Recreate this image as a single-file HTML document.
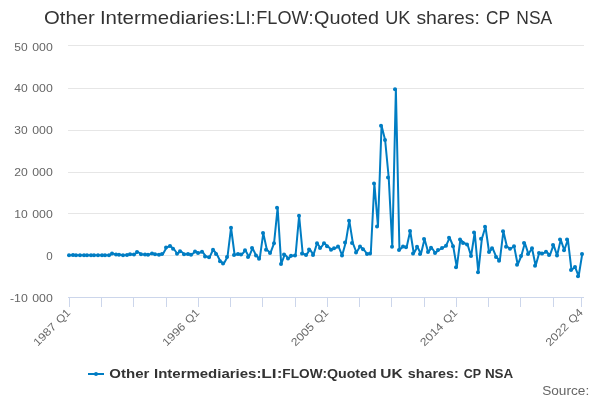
<!DOCTYPE html>
<html><head><meta charset="utf-8"><title>Chart</title>
<style>
html,body{margin:0;padding:0;background:#fff;}
body{width:600px;height:400px;overflow:hidden;font-family:"Liberation Sans",sans-serif;}
svg{display:block;font-family:"Liberation Sans",sans-serif;will-change:transform;-webkit-font-smoothing:antialiased;}
</style></head><body>
<svg width="600" height="400" viewBox="0 0 600 400">
<g><path d="M68 45.5H584" stroke="#e6e6e6" stroke-width="1"/><path d="M68 88.5H584" stroke="#e6e6e6" stroke-width="1"/><path d="M68 130.5H584" stroke="#e6e6e6" stroke-width="1"/><path d="M68 172.5H584" stroke="#e6e6e6" stroke-width="1"/><path d="M68 213.5H584" stroke="#e6e6e6" stroke-width="1"/><path d="M68 255.5H584" stroke="#e6e6e6" stroke-width="1"/></g>
<path d="M68 297.5H584" stroke="#ccd6eb" stroke-width="1"/>
<g><path d="M69.5 297V307" stroke="#ccd6eb" stroke-width="1"/><path d="M101.5 297V307" stroke="#ccd6eb" stroke-width="1"/><path d="M133.5 297V307" stroke="#ccd6eb" stroke-width="1"/><path d="M166.5 297V307" stroke="#ccd6eb" stroke-width="1"/><path d="M198.5 297V307" stroke="#ccd6eb" stroke-width="1"/><path d="M230.5 297V307" stroke="#ccd6eb" stroke-width="1"/><path d="M262.5 297V307" stroke="#ccd6eb" stroke-width="1"/><path d="M295.5 297V307" stroke="#ccd6eb" stroke-width="1"/><path d="M327.5 297V307" stroke="#ccd6eb" stroke-width="1"/><path d="M359.5 297V307" stroke="#ccd6eb" stroke-width="1"/><path d="M391.5 297V307" stroke="#ccd6eb" stroke-width="1"/><path d="M424.5 297V307" stroke="#ccd6eb" stroke-width="1"/><path d="M456.5 297V307" stroke="#ccd6eb" stroke-width="1"/><path d="M488.5 297V307" stroke="#ccd6eb" stroke-width="1"/><path d="M520.5 297V307" stroke="#ccd6eb" stroke-width="1"/><path d="M553.5 297V307" stroke="#ccd6eb" stroke-width="1"/><path d="M581.5 297V307" stroke="#ccd6eb" stroke-width="1"/></g>
<g font-size="18.4" fill="#333" style="font-kerning:none"><text x="44.04" y="24" textLength="50.70" lengthAdjust="spacingAndGlyphs">Other</text><text x="99.91" y="24" textLength="135.15" lengthAdjust="spacingAndGlyphs">Intermediaries:</text><text x="235.30" y="24" textLength="20.38" lengthAdjust="spacingAndGlyphs">LI:</text><text x="256.31" y="24" textLength="57.34" lengthAdjust="spacingAndGlyphs">FLOW:</text><text x="314.06" y="24" textLength="65.02" lengthAdjust="spacingAndGlyphs">Quoted</text><text x="385.20" y="24" textLength="25.20" lengthAdjust="spacingAndGlyphs">UK</text><text x="416.46" y="24" textLength="63.30" lengthAdjust="spacingAndGlyphs">shares:</text><text x="486.12" y="24" textLength="23.99" lengthAdjust="spacingAndGlyphs">CP</text><text x="516.37" y="24" textLength="35.86" lengthAdjust="spacingAndGlyphs">NSA</text></g>
<g font-size="11" fill="#666" style="font-kerning:none"><text x="14.37" y="51" textLength="13.37" lengthAdjust="spacingAndGlyphs">50</text><text x="32.25" y="51" textLength="20.50" lengthAdjust="spacingAndGlyphs">000</text><text x="14.26" y="92" textLength="13.48" lengthAdjust="spacingAndGlyphs">40</text><text x="32.25" y="92" textLength="20.50" lengthAdjust="spacingAndGlyphs">000</text><text x="14.38" y="134" textLength="13.36" lengthAdjust="spacingAndGlyphs">30</text><text x="32.25" y="134" textLength="20.50" lengthAdjust="spacingAndGlyphs">000</text><text x="14.19" y="176" textLength="13.55" lengthAdjust="spacingAndGlyphs">20</text><text x="32.25" y="176" textLength="20.50" lengthAdjust="spacingAndGlyphs">000</text><text x="14.29" y="218" textLength="13.45" lengthAdjust="spacingAndGlyphs">10</text><text x="32.25" y="218" textLength="20.50" lengthAdjust="spacingAndGlyphs">000</text><text x="46.27" y="260" textLength="6.45" lengthAdjust="spacingAndGlyphs">0</text><text x="9.99" y="302" textLength="17.76" lengthAdjust="spacingAndGlyphs">-10</text><text x="32.25" y="302" textLength="20.50" lengthAdjust="spacingAndGlyphs">000</text></g>
<g font-size="11" fill="#666" style="font-kerning:none"><g transform="translate(71.4,313) rotate(-45)"><text x="-47.73" y="0" textLength="27.41" lengthAdjust="spacingAndGlyphs">1987</text><text x="-15.93" y="0" textLength="15.48" lengthAdjust="spacingAndGlyphs">Q1</text></g><g transform="translate(200.4,313) rotate(-45)"><text x="-47.74" y="0" textLength="27.59" lengthAdjust="spacingAndGlyphs">1996</text><text x="-15.93" y="0" textLength="15.48" lengthAdjust="spacingAndGlyphs">Q1</text></g><g transform="translate(329.4,313) rotate(-45)"><text x="-47.81" y="0" textLength="27.37" lengthAdjust="spacingAndGlyphs">2005</text><text x="-15.93" y="0" textLength="15.48" lengthAdjust="spacingAndGlyphs">Q1</text></g><g transform="translate(458.4,313) rotate(-45)"><text x="-47.82" y="0" textLength="27.56" lengthAdjust="spacingAndGlyphs">2014</text><text x="-15.93" y="0" textLength="15.48" lengthAdjust="spacingAndGlyphs">Q1</text></g><g transform="translate(583.8,313) rotate(-45)"><text x="-47.81" y="0" textLength="27.33" lengthAdjust="spacingAndGlyphs">2022</text><text x="-15.94" y="0" textLength="15.66" lengthAdjust="spacingAndGlyphs">Q4</text></g></g>
<path d="M69.79 255.20 L73.37 255.00 L76.96 255.20 L80.54 255.30 L84.12 255.30 L87.71 255.30 L91.29 255.20 L94.87 255.20 L98.46 255.30 L102.04 255.30 L105.62 255.20 L109.21 255.20 L112.79 253.60 L116.37 254.50 L119.96 254.80 L123.54 255.20 L127.12 255.00 L130.71 254.20 L134.29 254.50 L137.87 252.00 L141.46 254.20 L145.04 254.50 L148.62 254.80 L152.21 253.40 L155.79 254.30 L159.37 254.80 L162.96 254.00 L166.54 247.50 L170.12 246.00 L173.71 248.75 L177.29 253.75 L180.87 251.25 L184.46 254.25 L188.04 254.00 L191.62 254.75 L195.21 251.50 L198.79 253.00 L202.37 251.70 L205.96 256.50 L209.54 257.25 L213.12 249.75 L216.71 254.00 L220.29 261.25 L223.87 263.40 L227.46 257.10 L231.04 227.75 L234.62 255.00 L238.21 254.10 L241.79 254.60 L245.37 250.25 L248.96 256.90 L252.54 248.10 L256.12 255.60 L259.71 258.75 L263.29 233.10 L266.87 249.80 L270.46 252.90 L274.04 243.30 L277.62 207.80 L281.21 264.00 L284.79 254.40 L288.37 258.50 L291.96 255.80 L295.54 255.40 L299.12 215.75 L302.71 253.50 L306.29 255.10 L309.87 249.40 L313.46 254.90 L317.04 243.20 L320.62 248.00 L324.21 243.20 L327.79 246.20 L331.37 249.80 L334.96 248.30 L338.54 246.50 L342.12 255.40 L345.71 242.60 L349.29 220.70 L352.87 243.10 L356.46 252.50 L360.04 246.50 L363.62 249.30 L367.21 254.00 L370.79 253.50 L374.37 183.50 L377.96 226.50 L381.54 125.80 L385.12 140.00 L388.71 177.50 L392.29 246.75 L395.87 89.20 L399.46 250.00 L403.04 246.50 L406.62 247.20 L410.21 231.00 L413.79 253.50 L417.37 246.75 L420.96 254.00 L424.54 239.00 L428.12 252.00 L431.71 247.75 L435.29 253.00 L438.87 250.00 L442.46 248.00 L446.04 245.80 L449.62 237.70 L453.21 246.25 L456.79 267.25 L460.37 239.50 L463.96 243.00 L467.54 244.50 L471.12 256.00 L474.71 232.50 L478.29 272.20 L481.87 238.75 L485.46 226.75 L489.04 252.00 L492.62 248.20 L496.21 256.90 L499.79 260.75 L503.37 231.25 L506.96 246.70 L510.54 248.80 L514.12 246.25 L517.71 264.70 L521.29 256.00 L524.87 243.00 L528.46 254.10 L532.04 248.20 L535.62 265.70 L539.21 252.90 L542.79 253.60 L546.37 251.70 L549.96 255.10 L553.54 244.90 L557.12 255.50 L560.71 239.60 L564.29 250.25 L567.87 239.45 L571.46 270.00 L575.04 266.90 L578.62 276.25 L582.21 254.10" fill="none" stroke="#007dc3" stroke-width="2" stroke-linejoin="round" stroke-linecap="round"/>
<g fill="#007dc3"><circle cx="69" cy="255.20" r="2"/><circle cx="73" cy="255.00" r="2"/><circle cx="76" cy="255.20" r="2"/><circle cx="80" cy="255.30" r="2"/><circle cx="84" cy="255.30" r="2"/><circle cx="87" cy="255.30" r="2"/><circle cx="91" cy="255.20" r="2"/><circle cx="94" cy="255.20" r="2"/><circle cx="98" cy="255.30" r="2"/><circle cx="102" cy="255.30" r="2"/><circle cx="105" cy="255.20" r="2"/><circle cx="109" cy="255.20" r="2"/><circle cx="112" cy="253.60" r="2"/><circle cx="116" cy="254.50" r="2"/><circle cx="119" cy="254.80" r="2"/><circle cx="123" cy="255.20" r="2"/><circle cx="127" cy="255.00" r="2"/><circle cx="130" cy="254.20" r="2"/><circle cx="134" cy="254.50" r="2"/><circle cx="137" cy="252.00" r="2"/><circle cx="141" cy="254.20" r="2"/><circle cx="145" cy="254.50" r="2"/><circle cx="148" cy="254.80" r="2"/><circle cx="152" cy="253.40" r="2"/><circle cx="155" cy="254.30" r="2"/><circle cx="159" cy="254.80" r="2"/><circle cx="162" cy="254.00" r="2"/><circle cx="166" cy="247.50" r="2"/><circle cx="170" cy="246.00" r="2"/><circle cx="173" cy="248.75" r="2"/><circle cx="177" cy="253.75" r="2"/><circle cx="180" cy="251.25" r="2"/><circle cx="184" cy="254.25" r="2"/><circle cx="188" cy="254.00" r="2"/><circle cx="191" cy="254.75" r="2"/><circle cx="195" cy="251.50" r="2"/><circle cx="198" cy="253.00" r="2"/><circle cx="202" cy="251.70" r="2"/><circle cx="205" cy="256.50" r="2"/><circle cx="209" cy="257.25" r="2"/><circle cx="213" cy="249.75" r="2"/><circle cx="216" cy="254.00" r="2"/><circle cx="220" cy="261.25" r="2"/><circle cx="223" cy="263.40" r="2"/><circle cx="227" cy="257.10" r="2"/><circle cx="231" cy="227.75" r="2"/><circle cx="234" cy="255.00" r="2"/><circle cx="238" cy="254.10" r="2"/><circle cx="241" cy="254.60" r="2"/><circle cx="245" cy="250.25" r="2"/><circle cx="248" cy="256.90" r="2"/><circle cx="252" cy="248.10" r="2"/><circle cx="256" cy="255.60" r="2"/><circle cx="259" cy="258.75" r="2"/><circle cx="263" cy="233.10" r="2"/><circle cx="266" cy="249.80" r="2"/><circle cx="270" cy="252.90" r="2"/><circle cx="274" cy="243.30" r="2"/><circle cx="277" cy="207.80" r="2"/><circle cx="281" cy="264.00" r="2"/><circle cx="284" cy="254.40" r="2"/><circle cx="288" cy="258.50" r="2"/><circle cx="291" cy="255.80" r="2"/><circle cx="295" cy="255.40" r="2"/><circle cx="299" cy="215.75" r="2"/><circle cx="302" cy="253.50" r="2"/><circle cx="306" cy="255.10" r="2"/><circle cx="309" cy="249.40" r="2"/><circle cx="313" cy="254.90" r="2"/><circle cx="317" cy="243.20" r="2"/><circle cx="320" cy="248.00" r="2"/><circle cx="324" cy="243.20" r="2"/><circle cx="327" cy="246.20" r="2"/><circle cx="331" cy="249.80" r="2"/><circle cx="334" cy="248.30" r="2"/><circle cx="338" cy="246.50" r="2"/><circle cx="342" cy="255.40" r="2"/><circle cx="345" cy="242.60" r="2"/><circle cx="349" cy="220.70" r="2"/><circle cx="352" cy="243.10" r="2"/><circle cx="356" cy="252.50" r="2"/><circle cx="360" cy="246.50" r="2"/><circle cx="363" cy="249.30" r="2"/><circle cx="367" cy="254.00" r="2"/><circle cx="370" cy="253.50" r="2"/><circle cx="374" cy="183.50" r="2"/><circle cx="377" cy="226.50" r="2"/><circle cx="381" cy="125.80" r="2"/><circle cx="385" cy="140.00" r="2"/><circle cx="388" cy="177.50" r="2"/><circle cx="392" cy="246.75" r="2"/><circle cx="395" cy="89.20" r="2"/><circle cx="399" cy="250.00" r="2"/><circle cx="403" cy="246.50" r="2"/><circle cx="406" cy="247.20" r="2"/><circle cx="410" cy="231.00" r="2"/><circle cx="413" cy="253.50" r="2"/><circle cx="417" cy="246.75" r="2"/><circle cx="420" cy="254.00" r="2"/><circle cx="424" cy="239.00" r="2"/><circle cx="428" cy="252.00" r="2"/><circle cx="431" cy="247.75" r="2"/><circle cx="435" cy="253.00" r="2"/><circle cx="438" cy="250.00" r="2"/><circle cx="442" cy="248.00" r="2"/><circle cx="446" cy="245.80" r="2"/><circle cx="449" cy="237.70" r="2"/><circle cx="453" cy="246.25" r="2"/><circle cx="456" cy="267.25" r="2"/><circle cx="460" cy="239.50" r="2"/><circle cx="463" cy="243.00" r="2"/><circle cx="467" cy="244.50" r="2"/><circle cx="471" cy="256.00" r="2"/><circle cx="474" cy="232.50" r="2"/><circle cx="478" cy="272.20" r="2"/><circle cx="481" cy="238.75" r="2"/><circle cx="485" cy="226.75" r="2"/><circle cx="489" cy="252.00" r="2"/><circle cx="492" cy="248.20" r="2"/><circle cx="496" cy="256.90" r="2"/><circle cx="499" cy="260.75" r="2"/><circle cx="503" cy="231.25" r="2"/><circle cx="506" cy="246.70" r="2"/><circle cx="510" cy="248.80" r="2"/><circle cx="514" cy="246.25" r="2"/><circle cx="517" cy="264.70" r="2"/><circle cx="521" cy="256.00" r="2"/><circle cx="524" cy="243.00" r="2"/><circle cx="528" cy="254.10" r="2"/><circle cx="532" cy="248.20" r="2"/><circle cx="535" cy="265.70" r="2"/><circle cx="539" cy="252.90" r="2"/><circle cx="542" cy="253.60" r="2"/><circle cx="546" cy="251.70" r="2"/><circle cx="549" cy="255.10" r="2"/><circle cx="553" cy="244.90" r="2"/><circle cx="557" cy="255.50" r="2"/><circle cx="560" cy="239.60" r="2"/><circle cx="564" cy="250.25" r="2"/><circle cx="567" cy="239.45" r="2"/><circle cx="571" cy="270.00" r="2"/><circle cx="575" cy="266.90" r="2"/><circle cx="578" cy="276.25" r="2"/><circle cx="582" cy="254.10" r="2"/></g>
<path d="M88 374H104" stroke="#007dc3" stroke-width="2"/>
<circle cx="96" cy="374" r="2" fill="#007dc3"/>
<g font-size="12" font-weight="bold" fill="#333" style="font-kerning:none"><text x="109.38" y="378" textLength="40.04" lengthAdjust="spacingAndGlyphs">Other</text><text x="154.00" y="378" textLength="107.44" lengthAdjust="spacingAndGlyphs">Intermediaries:</text><text x="261.34" y="378" textLength="21.12" lengthAdjust="spacingAndGlyphs">LI:</text><text x="282.39" y="378" textLength="44.73" lengthAdjust="spacingAndGlyphs">FLOW:</text><text x="326.92" y="378" textLength="49.82" lengthAdjust="spacingAndGlyphs">Quoted</text><text x="380.37" y="378" textLength="22.27" lengthAdjust="spacingAndGlyphs">UK</text><text x="407.80" y="378" textLength="50.88" lengthAdjust="spacingAndGlyphs">shares:</text><text x="463.79" y="378" textLength="17.34" lengthAdjust="spacingAndGlyphs">CP</text><text x="484.90" y="378" textLength="28.35" lengthAdjust="spacingAndGlyphs">NSA</text></g>
<text x="589.2" y="395" text-anchor="end" font-size="12" fill="#666" textLength="47" lengthAdjust="spacingAndGlyphs">Source:</text>
</svg>
</body></html>
